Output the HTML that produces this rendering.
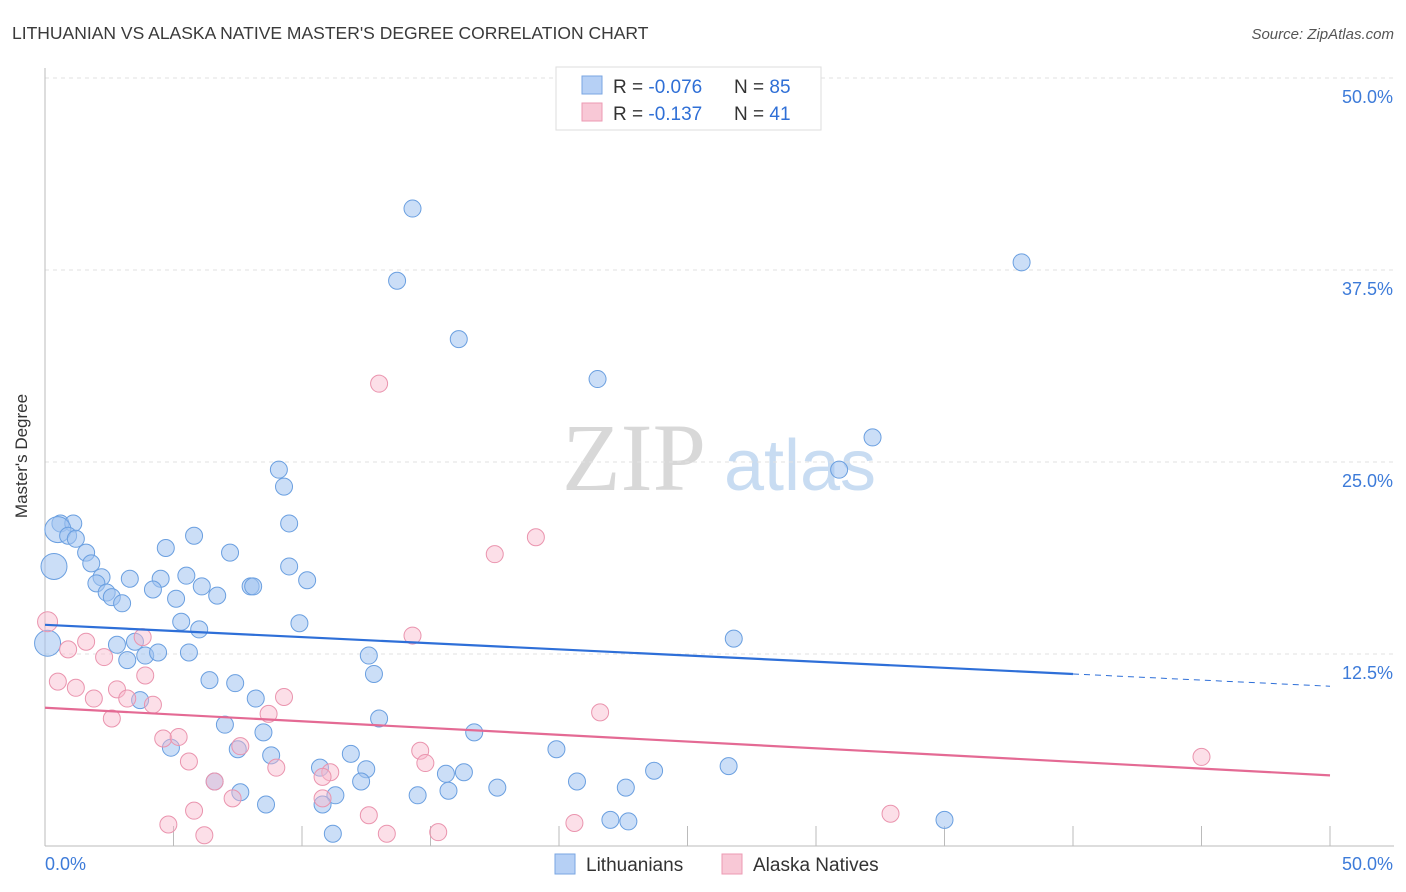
<!DOCTYPE html>
<html><head><meta charset="utf-8">
<style>
body{margin:0;background:#fff;font-family:"Liberation Sans",sans-serif;}
#wrap{position:relative;width:1406px;height:892px;overflow:hidden;}
</style></head>
<body>
<div id="wrap">
<svg id="chart" width="1406" height="892">
<text x="12" y="39" font-size="17.5" fill="#3a3a3a">LITHUANIAN VS ALASKA NATIVE MASTER'S DEGREE CORRELATION CHART</text>
<text x="1394" y="39" font-size="15" fill="#555" font-style="italic" text-anchor="end">Source: ZipAtlas.com</text>
<g>
<text x="634" y="490" font-size="96" fill="#d8d8d8" font-family="Liberation Serif,serif" text-anchor="middle">ZIP</text>
<text x="800" y="490" font-size="72" fill="#c8dcf2" text-anchor="middle">atlas</text>
</g>
<g id="grid"></g>
<g id="axes"></g>
<g id="pts"></g>
<g id="lines"></g>
<g>
<rect x="556" y="67" width="265" height="63" fill="#fff" stroke="#ddd"/>
<rect x="582" y="76" width="20" height="18" fill="#b6d0f5" stroke="#7aa6e2"/>
<rect x="582" y="103" width="20" height="18" fill="#f8c8d6" stroke="#ec9ab3"/>
<text x="613" y="93" font-size="19" fill="#333">R = <tspan fill="#2f6fd6">-0.076</tspan></text>
<text x="734" y="93" font-size="19" fill="#333">N = <tspan fill="#2f6fd6">85</tspan></text>
<text x="613" y="120" font-size="19" fill="#333">R = <tspan fill="#2f6fd6"> -0.137</tspan></text>
<text x="734" y="120" font-size="19" fill="#333">N = <tspan fill="#2f6fd6"> 41</tspan></text>
</g>
<g>
<rect x="555" y="854" width="20" height="20" fill="#b6d0f5" stroke="#7aa6e2"/>
<text x="586" y="871" font-size="19" fill="#333">Lithuanians</text>
<rect x="722" y="854" width="20" height="20" fill="#f8c8d6" stroke="#ec9ab3"/>
<text x="753" y="871" font-size="19" fill="#333">Alaska Natives</text>
</g>
<text x="27" y="456" font-size="17" fill="#333" text-anchor="middle" transform="rotate(-90 27 456)">Master's Degree</text>
</svg>
</div>
<script>
const blueX=[14.3,13.7,38.0,16.1,21.5,32.2,30.9,9.1,9.3,9.5,0.6,1.1,0.5,0.9,1.2,0.35,1.6,1.8,5.8,4.7,7.2,9.5,2.2,2.0,3.3,4.5,5.5,10.2,4.2,6.1,2.4,2.6,3.0,5.1,6.7,8.0,8.1,5.3,6.0,9.9,0.1,2.8,3.5,3.2,3.9,4.4,5.6,12.6,12.8,26.8,6.4,7.4,8.2,3.7,13.0,7.0,8.5,16.7,7.5,4.9,8.8,11.9,19.9,26.6,10.7,12.5,15.6,16.3,23.7,20.7,7.6,11.3,14.5,15.7,17.6,22.6,6.6,12.3,8.6,10.8,11.2,22.0,22.7,35.0];
const blueY=[41.5,36.8,38.0,33.0,30.4,26.6,24.5,24.5,23.4,21.0,21.0,21.0,20.6,20.2,20.0,18.2,19.1,18.4,20.2,19.4,19.1,18.2,17.5,17.1,17.4,17.4,17.6,17.3,16.7,16.9,16.5,16.2,15.8,16.1,16.3,16.9,16.9,14.6,14.1,14.5,13.2,13.1,13.3,12.1,12.4,12.6,12.6,12.4,11.2,13.5,10.8,10.6,9.6,9.5,8.3,7.9,7.4,7.4,6.3,6.4,5.9,6.0,6.3,5.2,5.1,5.0,4.7,4.8,4.9,4.2,3.5,3.3,3.3,3.6,3.8,3.8,4.2,4.2,2.7,2.7,0.8,1.7,1.6,1.7];
const blueBig=[12,15,40];
const pinkX=[13.0,19.1,17.5,0.1,3.8,1.6,0.9,14.3,2.3,0.5,1.2,3.9,2.8,1.9,3.2,4.2,2.6,8.7,9.3,21.6,4.6,5.2,7.6,14.6,5.6,14.8,9.0,11.1,10.8,6.6,45.0,7.3,10.8,5.8,12.6,4.8,6.2,13.3,15.3,20.6,32.9];
const pinkY=[30.1,20.1,19.0,14.6,13.6,13.3,12.8,13.7,12.3,10.7,10.3,11.1,10.2,9.6,9.6,9.2,8.3,8.6,9.7,8.7,7.0,7.1,6.5,6.2,5.5,5.4,5.1,4.8,4.5,4.2,5.8,3.1,3.1,2.3,2.0,1.4,0.7,0.8,0.9,1.5,2.1];
const blueTrend=[14.4,11.2,10.4]; // at x=0, x=40, x=50
const pinkTrend=[9.0,4.6]; // at x=0, x=50
const yTicks=[12.5,25.0,37.5,50.0];
const xTickLabels=["0.0%","50.0%"];
const NS="http://www.w3.org/2000/svg";
const X=v=>45+v*25.7, Y=v=>846-v*15.36;
function mk(tag,attrs,parent){const e=document.createElementNS(NS,tag);for(const k in attrs)e.setAttribute(k,attrs[k]);document.getElementById(parent).appendChild(e);return e;}
yTicks.forEach(t=>{
 const l=mk('line',{x1:45,x2:1394,y1:Y(t),y2:Y(t),stroke:'#e2e2e2','stroke-dasharray':'4,4'},'grid');
 
 
 const tx=mk('text',{x:1393,y:Y(t)+25,'font-size':18,fill:'#3d7bd9','text-anchor':'end'},'grid');
 tx.textContent=t.toFixed(1)+'%';
 
 
});
let a=mk('line',{x1:45,x2:45,y1:68,y2:846,stroke:'#bbb'},'axes');


a=mk('line',{x1:45,x2:1394,y1:846,y2:846,stroke:'#bbb'},'axes');


for(let i=0;i<=10;i++){const t=mk('line',{x1:X(i*5),x2:X(i*5),y1:826,y2:846,stroke:'#bbb'},'axes');
 
 }
[[0,'start',45],[50,'end',1393]].forEach((d,i)=>{const t=mk('text',{x:d[2],y:870,'font-size':18,fill:'#3d7bd9','text-anchor':d[1]},'axes');t.textContent=xTickLabels[i];
 
 });
blueX.forEach((v,i)=>{const c=mk('circle',{cx:X(v),cy:Y(blueY[i]),r:blueBig.includes(i)?13:8.5,fill:'rgba(160,195,240,0.55)',stroke:'#6a9fe0','stroke-width':1},'pts');
 
 });
pinkX.forEach((v,i)=>{const c=mk('circle',{cx:X(v),cy:Y(pinkY[i]),r:i==3?10:8.5,fill:'rgba(248,185,205,0.45)',stroke:'#ea94ae','stroke-width':1},'pts');
 
 });
let l=mk('line',{x1:X(0),y1:Y(blueTrend[0]),x2:X(40),y2:Y(blueTrend[1]),stroke:'#2e6fd8','stroke-width':2.2},'lines');


l=mk('line',{x1:X(40),y1:Y(blueTrend[1]),x2:X(50),y2:Y(blueTrend[2]),stroke:'#2e6fd8','stroke-width':1,'stroke-dasharray':'6,5'},'lines');


l=mk('line',{x1:X(0),y1:Y(pinkTrend[0]),x2:X(50),y2:Y(pinkTrend[1]),stroke:'#e46a94','stroke-width':2.2},'lines');


</script>
</body></html>
